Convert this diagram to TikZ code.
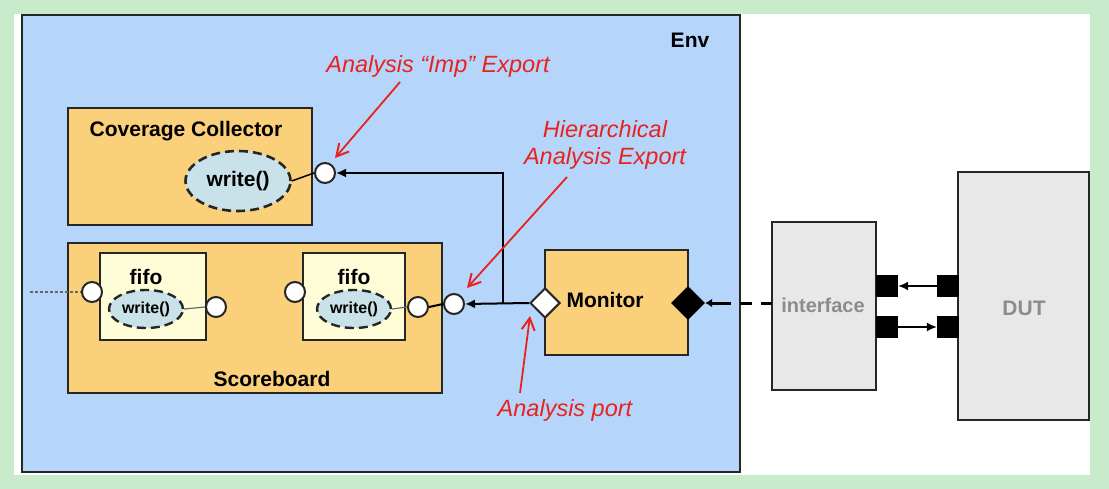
\documentclass[tikz,border=0pt]{standalone}
\usepackage{fontspec}
\setmainfont{Liberation Sans}
\usetikzlibrary{shapes.geometric,arrows.meta}
\definecolor{bgg}{HTML}{C8EBCB}
\definecolor{envb}{HTML}{B5D5FB}
\definecolor{org}{HTML}{FAD07A}
\definecolor{fif}{HTML}{FFFDD8}
\definecolor{elb}{HTML}{C9E1E8}
\definecolor{gry}{HTML}{E8E8E8}
\definecolor{ann}{HTML}{E8231E}
\begin{document}
\begin{tikzpicture}[x=1pt,y=-1pt,
 box/.style={draw=black!85,line width=2.8pt},
 port/.style={circle,draw=black!85,fill=white,line width=2pt,minimum size=20pt,inner sep=0pt},
 imp/.style={ellipse,draw=black!85,dash pattern=on 9pt off 5pt,line width=2.6pt,fill=elb,inner sep=0pt},
 lbl/.style={font=\bfseries\fontsize{21}{24}\selectfont},
 note/.style={font=\itshape\fontsize{23.5}{27}\selectfont,text=ann,align=center},
 narrow/.style={draw=ann,line width=1.8pt,-{Straight Barb[length=12pt,width=13pt,line width=2pt]}},
 sq/.style={fill=black,minimum width=22pt,minimum height=22pt,inner sep=0pt},
 conn/.style={draw=black,line width=2pt,-{Latex[length=10pt,width=9pt]}}]
\fill[bgg] (0,0) rectangle (1109,489);
\fill[white] (14,14) rectangle (1090,475);
\draw[box,fill=envb] (22,15) rectangle (740,472);
\node[lbl] (env) at (690,40) {Env};
% coverage collector
\draw[box,fill=org] (68,108) rectangle (312,225);
\node[lbl] (cc) at (186,131) {Coverage Collector};
\node[imp,minimum width=105pt,minimum height=60pt] (ccw) at (238,181) {};
\node[lbl] at (ccw) {write()};
\node[port] (ccp) at (325,173) {};
\draw[line width=1.5pt] (ccw.east) -- (ccp.west);
% scoreboard
\draw[box,fill=org] (68,243) rectangle (442,393);
\node[lbl] (sb) at (272,379) {Scoreboard};
\draw[box,fill=fif] (100,253) rectangle (206,340);
\node[lbl] (f1) at (146,277) {fifo};
\node[imp,minimum width=74pt,minimum height=38pt,line width=2.4pt] (f1w) at (146,309) {};
\node[font=\bfseries\fontsize{16}{18}\selectfont,inner sep=0pt] at (f1w) {write()};
\node[port] (f1l) at (92,292) {};
\node[port] (f1r) at (216,307) {};
\draw[line width=1.2pt,black!60] (f1w.east) -- (f1r.west);
\draw[box,fill=fif] (303,253) rectangle (405,340);
\node[lbl] (f2) at (354,277) {fifo};
\node[imp,minimum width=74pt,minimum height=38pt,line width=2.4pt] (f2w) at (354,309) {};
\node[font=\bfseries\fontsize{16}{18}\selectfont,inner sep=0pt] at (f2w) {write()};
\node[port] (f2l) at (295,292) {};
\node[port] (f2r) at (418,307) {};
\draw[line width=1.2pt,black!60] (f2w.east) -- (f2r.west);
\node[port] (sbp) at (454,304) {};
\draw[line width=2pt] (f2r.east) -- (sbp.west);
\coordinate (dl) at (30,292);
\draw[densely dashed,line width=1.5pt,black!60] (dl) -- (f1l.west);
% monitor
\draw[box,fill=org] (545,250) rectangle (688,355);
\node[lbl] (mon) at (605,300) {Monitor};
\node[diamond,draw=black!85,fill=white,line width=2pt,minimum size=30pt,inner sep=0pt] (ap) at (545,303) {};
\node[diamond,fill=black,minimum size=34pt,inner sep=0pt] (bd) at (688,303) {};
\coordinate (j) at (503,304);
\draw[conn] (ap.west) -- (sbp.east);
\draw[conn] (j) |- (ccp.east);
% interface / DUT
\draw[box,fill=gry] (772,222) rectangle (876,390);
\node[font=\bfseries\fontsize{20}{24}\selectfont,text=black!45] (ifc) at (823,305) {interface};
\draw[box,fill=gry] (958,172) rectangle (1089,420);
\node[font=\bfseries\fontsize{21}{25}\selectfont,text=black!45] (dut) at (1024,308) {DUT};
\draw[dash pattern=on 12pt off 9pt,line width=3pt] (bd.east) ++(14,0) -- (772,303);
\draw[line width=3pt,-{Latex[length=7pt,width=9pt]}] (bd.east) ++(16,0) -- (bd.east);
\node[sq] (is1) at (887,286) {};
\node[sq] (is2) at (887,327) {};
\node[sq] (ds1) at (948,286) {};
\node[sq] (ds2) at (948,327) {};
\draw[conn,line width=1.6pt] (ds1) -- (is1);
\draw[conn,line width=1.6pt] (is2) -- (ds2);
% annotations
\node[note] (n1) at (438,66) {Analysis “Imp” Export};
\draw[narrow] (400,82) -- (335,158);
\node[note,inner sep=0pt] (n2) at (605,145) {Hierarchical\\Analysis Export};
\draw[narrow] (567,177) -- (467,288);
\node[note] (n3) at (565,410) {Analysis port};
\draw[narrow] (520,393) -- (530,316);
\end{tikzpicture}
\end{document}
